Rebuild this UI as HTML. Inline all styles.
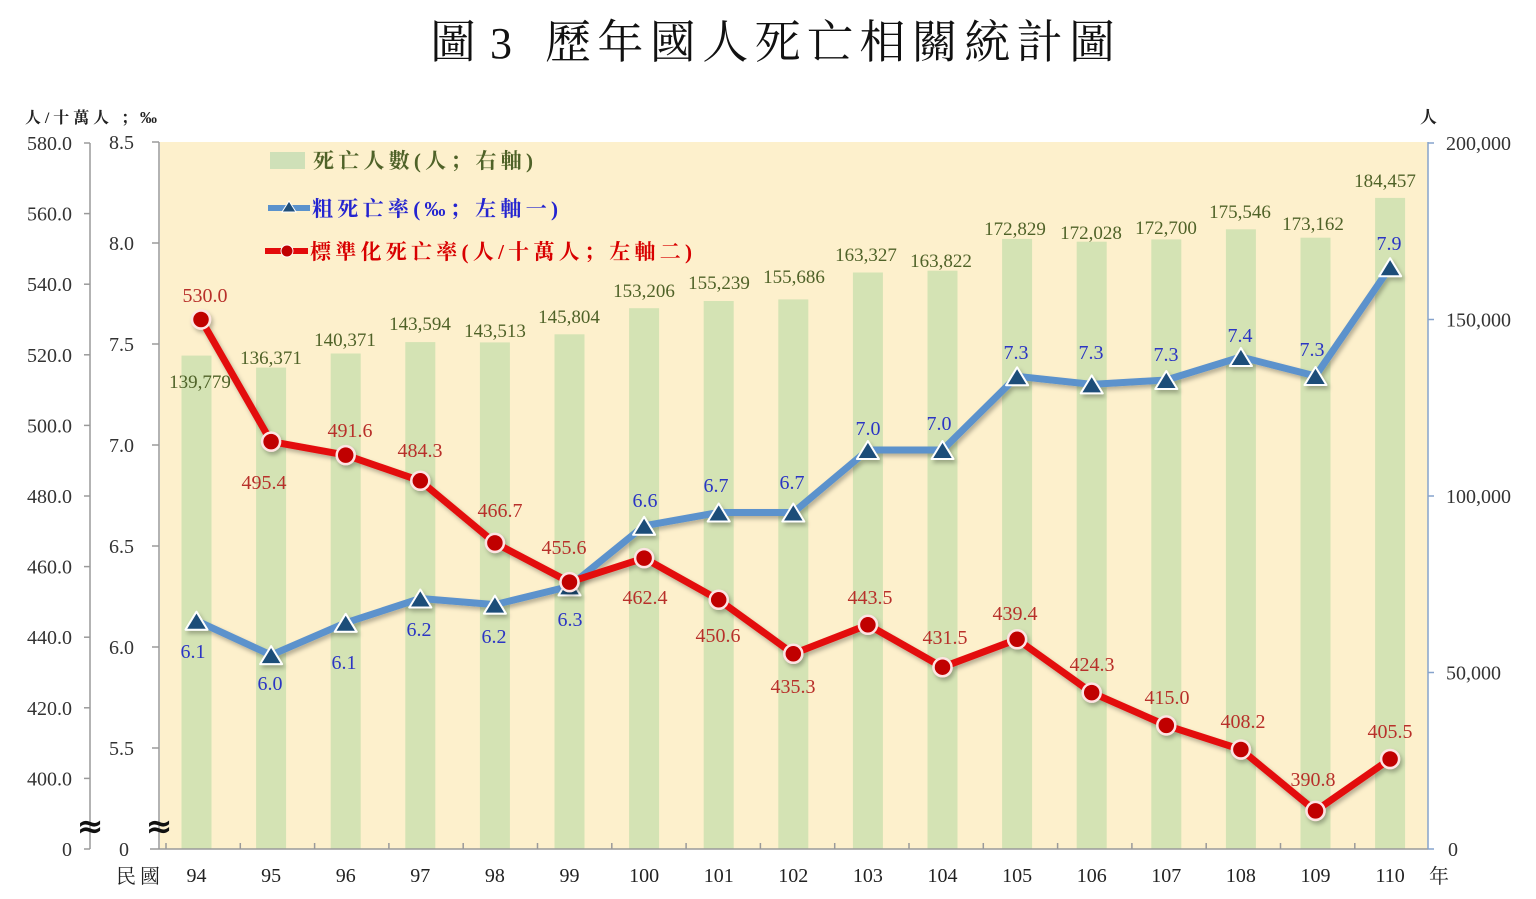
<!DOCTYPE html>
<html><head><meta charset="utf-8"><style>
html,body{margin:0;padding:0;background:#fff;}
svg{display:block;}
text{font-family:"Liberation Serif","Noto Serif CJK SC",serif;}
</style></head><body>
<svg width="1536" height="899" viewBox="0 0 1536 899" xmlns="http://www.w3.org/2000/svg">
<defs>
<filter id="sh" x="-5%" y="-5%" width="110%" height="115%">
<feDropShadow dx="2" dy="3" stdDeviation="2" flood-color="#000" flood-opacity="0.28"/>
</filter>
</defs>
<rect width="1536" height="899" fill="#fff"/>
<!-- title -->
<g font-size="46" fill="#111">
<text x="430" y="58">圖</text>
<text x="490" y="58" font-size="44">3</text>
<text x="545" y="58" textLength="570" lengthAdjust="spacing">歷年國人死亡相關統計圖</text>
</g>
<!-- plot area -->
<rect x="160" y="142" width="1268" height="707" fill="#fdf0cc"/>
<!-- bars -->
<g fill="#d4e3b4">
<rect x="181.5" y="355.6" width="30" height="493.4"/>
<rect x="256.1" y="367.6" width="30" height="481.4"/>
<rect x="330.7" y="353.5" width="30" height="495.5"/>
<rect x="405.3" y="342.1" width="30" height="506.9"/>
<rect x="479.9" y="342.4" width="30" height="506.6"/>
<rect x="554.5" y="334.3" width="30" height="514.7"/>
<rect x="629.1" y="308.2" width="30" height="540.8"/>
<rect x="703.7" y="301.0" width="30" height="548.0"/>
<rect x="778.3" y="299.4" width="30" height="549.6"/>
<rect x="852.9" y="272.5" width="30" height="576.5"/>
<rect x="927.5" y="270.7" width="30" height="578.3"/>
<rect x="1002.1" y="238.9" width="30" height="610.1"/>
<rect x="1076.7" y="241.7" width="30" height="607.3"/>
<rect x="1151.3" y="239.4" width="30" height="609.6"/>
<rect x="1225.9" y="229.3" width="30" height="619.7"/>
<rect x="1300.5" y="237.7" width="30" height="611.3"/>
<rect x="1375.1" y="197.9" width="30" height="651.1"/>
</g>
<!-- axes -->
<g stroke="#9a9a9a" stroke-width="1.5" fill="none">
<line x1="90" y1="143" x2="90" y2="849"/>
<line x1="159" y1="142" x2="159" y2="849"/>
<line x1="150" y1="849" x2="1428" y2="849"/>
<line x1="84" y1="143" x2="90" y2="143"/><line x1="84" y1="213.6" x2="90" y2="213.6"/>
<line x1="84" y1="284.2" x2="90" y2="284.2"/><line x1="84" y1="354.8" x2="90" y2="354.8"/>
<line x1="84" y1="425.4" x2="90" y2="425.4"/><line x1="84" y1="496" x2="90" y2="496"/>
<line x1="84" y1="566.6" x2="90" y2="566.6"/><line x1="84" y1="637.2" x2="90" y2="637.2"/>
<line x1="84" y1="707.8" x2="90" y2="707.8"/><line x1="84" y1="778.4" x2="90" y2="778.4"/>
<line x1="84" y1="849" x2="90" y2="849"/>
<line x1="152" y1="142" x2="159" y2="142"/><line x1="152" y1="243" x2="159" y2="243"/>
<line x1="152" y1="344" x2="159" y2="344"/><line x1="152" y1="445" x2="159" y2="445"/>
<line x1="152" y1="546" x2="159" y2="546"/><line x1="152" y1="647" x2="159" y2="647"/>
<line x1="152" y1="748" x2="159" y2="748"/>
</g>
<g stroke="#9a9a9a" stroke-width="1.5">
<line x1="166" y1="849" x2="166" y2="843"/><line x1="240.3" y1="849" x2="240.3" y2="843"/>
<line x1="314.6" y1="849" x2="314.6" y2="843"/><line x1="388.9" y1="849" x2="388.9" y2="843"/>
<line x1="463.2" y1="849" x2="463.2" y2="843"/><line x1="537.5" y1="849" x2="537.5" y2="843"/>
<line x1="611.8" y1="849" x2="611.8" y2="843"/><line x1="686.1" y1="849" x2="686.1" y2="843"/>
<line x1="760.4" y1="849" x2="760.4" y2="843"/><line x1="834.7" y1="849" x2="834.7" y2="843"/>
<line x1="909" y1="849" x2="909" y2="843"/><line x1="983.3" y1="849" x2="983.3" y2="843"/>
<line x1="1057.6" y1="849" x2="1057.6" y2="843"/><line x1="1131.9" y1="849" x2="1131.9" y2="843"/>
<line x1="1206.2" y1="849" x2="1206.2" y2="843"/><line x1="1280.5" y1="849" x2="1280.5" y2="843"/>
<line x1="1354.8" y1="849" x2="1354.8" y2="843"/>
</g>
<g stroke="#86a3cc" stroke-width="1.5">
<line x1="1428" y1="142" x2="1428" y2="849"/>
<line x1="1428" y1="143" x2="1434" y2="143"/><line x1="1428" y1="319.5" x2="1434" y2="319.5"/>
<line x1="1428" y1="496" x2="1434" y2="496"/><line x1="1428" y1="672.5" x2="1434" y2="672.5"/>
<line x1="1428" y1="849" x2="1434" y2="849"/>
</g>
<!-- break marks -->
<g font-size="32" font-weight="bold" fill="#111" text-anchor="middle" font-family="DejaVu Sans, sans-serif">
<text x="90" y="837" style="font-family:'DejaVu Sans',sans-serif">≈</text>
<text x="159" y="837" style="font-family:'DejaVu Sans',sans-serif">≈</text>
</g>
<!-- axis labels -->
<g font-size="20" fill="#333" text-anchor="end">
<text x="72" y="150">580.0</text><text x="72" y="220.6">560.0</text>
<text x="72" y="291.2">540.0</text><text x="72" y="361.8">520.0</text>
<text x="72" y="432.4">500.0</text><text x="72" y="503">480.0</text>
<text x="72" y="573.6">460.0</text><text x="72" y="644.2">440.0</text>
<text x="72" y="714.8">420.0</text><text x="72" y="785.4">400.0</text>
<text x="72" y="856">0</text>
<text x="134" y="149">8.5</text><text x="134" y="250">8.0</text>
<text x="134" y="351">7.5</text><text x="134" y="452">7.0</text>
<text x="134" y="553">6.5</text><text x="134" y="654">6.0</text>
<text x="134" y="755">5.5</text><text x="129" y="856">0</text>
</g>
<g font-size="20" fill="#333" text-anchor="start">
<text x="1446" y="150">200,000</text><text x="1446" y="326.5">150,000</text>
<text x="1446" y="503">100,000</text><text x="1446" y="679.5">50,000</text>
<text x="1448" y="856">0</text>
</g>
<g font-size="20" fill="#222" text-anchor="middle">
<text x="196.5" y="882">94</text><text x="271.1" y="882">95</text><text x="345.7" y="882">96</text>
<text x="420.3" y="882">97</text><text x="494.9" y="882">98</text><text x="569.5" y="882">99</text>
<text x="644.1" y="882">100</text><text x="718.7" y="882">101</text><text x="793.3" y="882">102</text>
<text x="867.9" y="882">103</text><text x="942.5" y="882">104</text><text x="1017.1" y="882">105</text>
<text x="1091.7" y="882">106</text><text x="1166.3" y="882">107</text><text x="1240.9" y="882">108</text>
<text x="1315.5" y="882">109</text><text x="1390.1" y="882">110</text>
</g>
<text x="116" y="883" font-size="20" fill="#222" textLength="44" lengthAdjust="spacing">民國</text>
<text x="1429" y="883" font-size="20" fill="#222">年</text>
<text x="25" y="123" font-size="16" font-weight="bold" fill="#222" textLength="112" lengthAdjust="spacing">人/十萬人 ；</text>
<text x="140" y="123" font-size="17" font-weight="bold" fill="#222">‰</text>
<text x="1420" y="123" font-size="17" font-weight="bold" fill="#222">人</text>
<!-- legend -->
<rect x="270" y="152" width="35" height="17" fill="#cfe0b8"/>
<text x="313" y="168" font-size="21" font-weight="bold" fill="#4f6228" textLength="220" lengthAdjust="spacing">死亡人數(人；右軸)</text>
<line x1="268" y1="208" x2="310" y2="208" stroke="#5b92cc" stroke-width="6"/>
<polygon points="289,201 282,212 296,212" fill="#1f4e79" stroke="#fff" stroke-width="1"/>
<text x="312" y="216" font-size="21" font-weight="bold" fill="#2424d0" textLength="246" lengthAdjust="spacing">粗死亡率(‰；左軸一)</text>
<line x1="265" y1="251" x2="308" y2="251" stroke="#e30b0b" stroke-width="6"/>
<circle cx="287" cy="251" r="6" fill="#c00000" stroke="#fff" stroke-width="1"/>
<text x="310" y="259" font-size="21" font-weight="bold" fill="#d80000" textLength="382" lengthAdjust="spacing">標準化死亡率(人/十萬人；左軸二)</text>
<!-- bar labels -->
<g font-size="19" fill="#4f6228" text-anchor="middle">
<text x="200" y="388">139,779</text><text x="271" y="364">136,371</text>
<text x="345" y="346">140,371</text><text x="420" y="330">143,594</text>
<text x="495" y="337">143,513</text><text x="569" y="323">145,804</text>
<text x="644" y="297">153,206</text><text x="719" y="289">155,239</text>
<text x="794" y="283">155,686</text><text x="866" y="261">163,327</text>
<text x="941" y="267">163,822</text><text x="1015" y="235">172,829</text>
<text x="1091" y="239">172,028</text><text x="1166" y="234">172,700</text>
<text x="1240" y="218">175,546</text><text x="1313" y="230">173,162</text>
<text x="1385" y="187">184,457</text>
</g>
<!-- crude death rate line -->
<g filter="url(#sh)">
<polyline fill="none" stroke="#5b92cc" stroke-width="7" stroke-linejoin="round" points="196.5,620.7 271.1,655.1 345.7,622.8 420.3,598.5 494.9,604.6 569.5,586.4 644.1,525.8 718.7,512.5 793.3,512.5 867.9,450 942.5,450 1017.1,376.3 1091.7,384.4 1166.3,380 1240.9,357 1315.5,376 1390.1,267.2"/>
<g fill="#1f4e79" stroke="#fff" stroke-width="2" stroke-linejoin="round">
<polygon points="196.5,611.7 185.5,629.7 207.5,629.7"/>
<polygon points="271.1,646.1 260.1,664.1 282.1,664.1"/>
<polygon points="345.7,613.8 334.7,631.8 356.7,631.8"/>
<polygon points="420.3,589.5 409.3,607.5 431.3,607.5"/>
<polygon points="494.9,595.6 483.9,613.6 505.9,613.6"/>
<polygon points="569.5,577.4 558.5,595.4 580.5,595.4"/>
<polygon points="644.1,516.8 633.1,534.8 655.1,534.8"/>
<polygon points="718.7,503.5 707.7,521.5 729.7,521.5"/>
<polygon points="793.3,503.5 782.3,521.5 804.3,521.5"/>
<polygon points="867.9,441 856.9,459 878.9,459"/>
<polygon points="942.5,441 931.5,459 953.5,459"/>
<polygon points="1017.1,367.3 1006.1,385.3 1028.1,385.3"/>
<polygon points="1091.7,375.4 1080.7,393.4 1102.7,393.4"/>
<polygon points="1166.3,371 1155.3,389 1177.3,389"/>
<polygon points="1240.9,348 1229.9,366 1251.9,366"/>
<polygon points="1315.5,367 1304.5,385 1326.5,385"/>
<polygon points="1390.1,258.2 1379.1,276.2 1401.1,276.2"/>
</g>
</g>
<!-- standardized rate line -->
<g filter="url(#sh)">
<polyline fill="none" stroke="#e30b0b" stroke-width="7" stroke-linejoin="round" points="201,319.5 271.1,441.6 345.7,455.1 420.3,480.8 494.9,542.9 569.5,582.1 644.1,558.1 718.7,599.8 793.3,653.8 867.9,624.8 942.5,667.2 1017.1,639.3 1091.7,692.6 1166.3,725.4 1240.9,749.5 1315.5,810.9 1390.1,759"/>
<g fill="#c00000" stroke="#fde4e4" stroke-width="2.5">
<circle cx="201" cy="319.5" r="9"/><circle cx="271.1" cy="441.6" r="9"/>
<circle cx="345.7" cy="455.1" r="9"/><circle cx="420.3" cy="480.8" r="9"/>
<circle cx="494.9" cy="542.9" r="9"/><circle cx="569.5" cy="582.1" r="9"/>
<circle cx="644.1" cy="558.1" r="9"/><circle cx="718.7" cy="599.8" r="9"/>
<circle cx="793.3" cy="653.8" r="9"/><circle cx="867.9" cy="624.8" r="9"/>
<circle cx="942.5" cy="667.2" r="9"/><circle cx="1017.1" cy="639.3" r="9"/>
<circle cx="1091.7" cy="692.6" r="9"/><circle cx="1166.3" cy="725.4" r="9"/>
<circle cx="1240.9" cy="749.5" r="9"/><circle cx="1315.5" cy="810.9" r="9"/>
<circle cx="1390.1" cy="759" r="9"/>
</g>
</g>
<!-- crude labels -->
<g font-size="20" fill="#2b35c4" text-anchor="middle">
<text x="193" y="658">6.1</text><text x="270" y="690">6.0</text>
<text x="344" y="669">6.1</text><text x="419" y="636">6.2</text>
<text x="494" y="643">6.2</text><text x="570" y="626">6.3</text>
<text x="645" y="507">6.6</text><text x="716" y="492">6.7</text>
<text x="792" y="489">6.7</text><text x="868" y="435">7.0</text>
<text x="939" y="430">7.0</text><text x="1016" y="359">7.3</text>
<text x="1091" y="359">7.3</text><text x="1166" y="361">7.3</text>
<text x="1240" y="342">7.4</text><text x="1312" y="356">7.3</text>
<text x="1389" y="250">7.9</text>
</g>
<!-- standardized labels -->
<g font-size="20" fill="#b8302a" text-anchor="middle">
<text x="205" y="302">530.0</text><text x="264" y="489">495.4</text>
<text x="350" y="437">491.6</text><text x="420" y="457">484.3</text>
<text x="500" y="517">466.7</text><text x="564" y="554">455.6</text>
<text x="645" y="604">462.4</text><text x="718" y="642">450.6</text>
<text x="793" y="693">435.3</text><text x="870" y="604">443.5</text>
<text x="945" y="644">431.5</text><text x="1015" y="620">439.4</text>
<text x="1092" y="671">424.3</text><text x="1167" y="704">415.0</text>
<text x="1243" y="728">408.2</text><text x="1313" y="786">390.8</text>
<text x="1390" y="738">405.5</text>
</g>
</svg>
</body></html>
